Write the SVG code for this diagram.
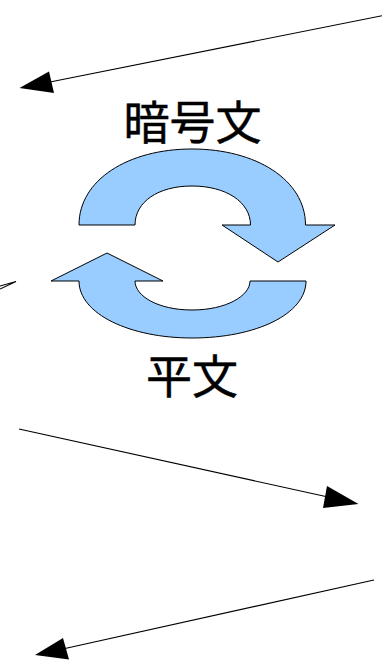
<svg xmlns="http://www.w3.org/2000/svg" width="382" height="660" viewBox="0 0 382 660">
<style>
.c{fill:none;stroke:#000;stroke-width:1.1}
.h{fill:#000;stroke:none}
.a{fill:#99ccff;stroke:#000;stroke-width:1;stroke-linejoin:round}
.t{font-family:"Noto Sans CJK JP","Liberation Sans",sans-serif;font-size:46px;font-weight:400;stroke:#000;stroke-width:.5;fill:#000;text-anchor:middle}
</style>
<rect width="382" height="660" fill="#fff"/>
<g id="connectors">
<path class="c" d="M382 15.700L50 82"/>
<polygon class="h" points="19.500,88 49,71.500 54,93"/>
<path class="c" d="M19 429L328 497"/>
<polygon class="h" points="358.500,504 327,486 323,508"/>
<path class="c" d="M374 580L65 648.500"/>
<polygon class="h" points="35,655 63,638 69,659.500"/>
<path class="c" d="M0 286L16 281.500L0 289"/>
</g>
<g id="cycle-top"><path class="a" d="M79 225C79 180 128 149 192 149C256 149 305.500 180 305.500 225H335L278 262L222 225H250.500C250.500 202 226 186 192 186C158 186 135 202 135 225Z"/></g>
<g id="cycle-bottom"><path class="a" d="M306 281C306 314 256 338 192 338C130 338 79 314 79 281H51L107 253L163 281H135C135 296 158 310 192 310C226 310 250 296 250 281Z"/></g>
<g id="ciphertext"><text class="t" x="192.500" y="139">暗号文</text></g>
<g id="plaintext"><text class="t" x="192" y="392.500">平文</text></g>
</svg>
